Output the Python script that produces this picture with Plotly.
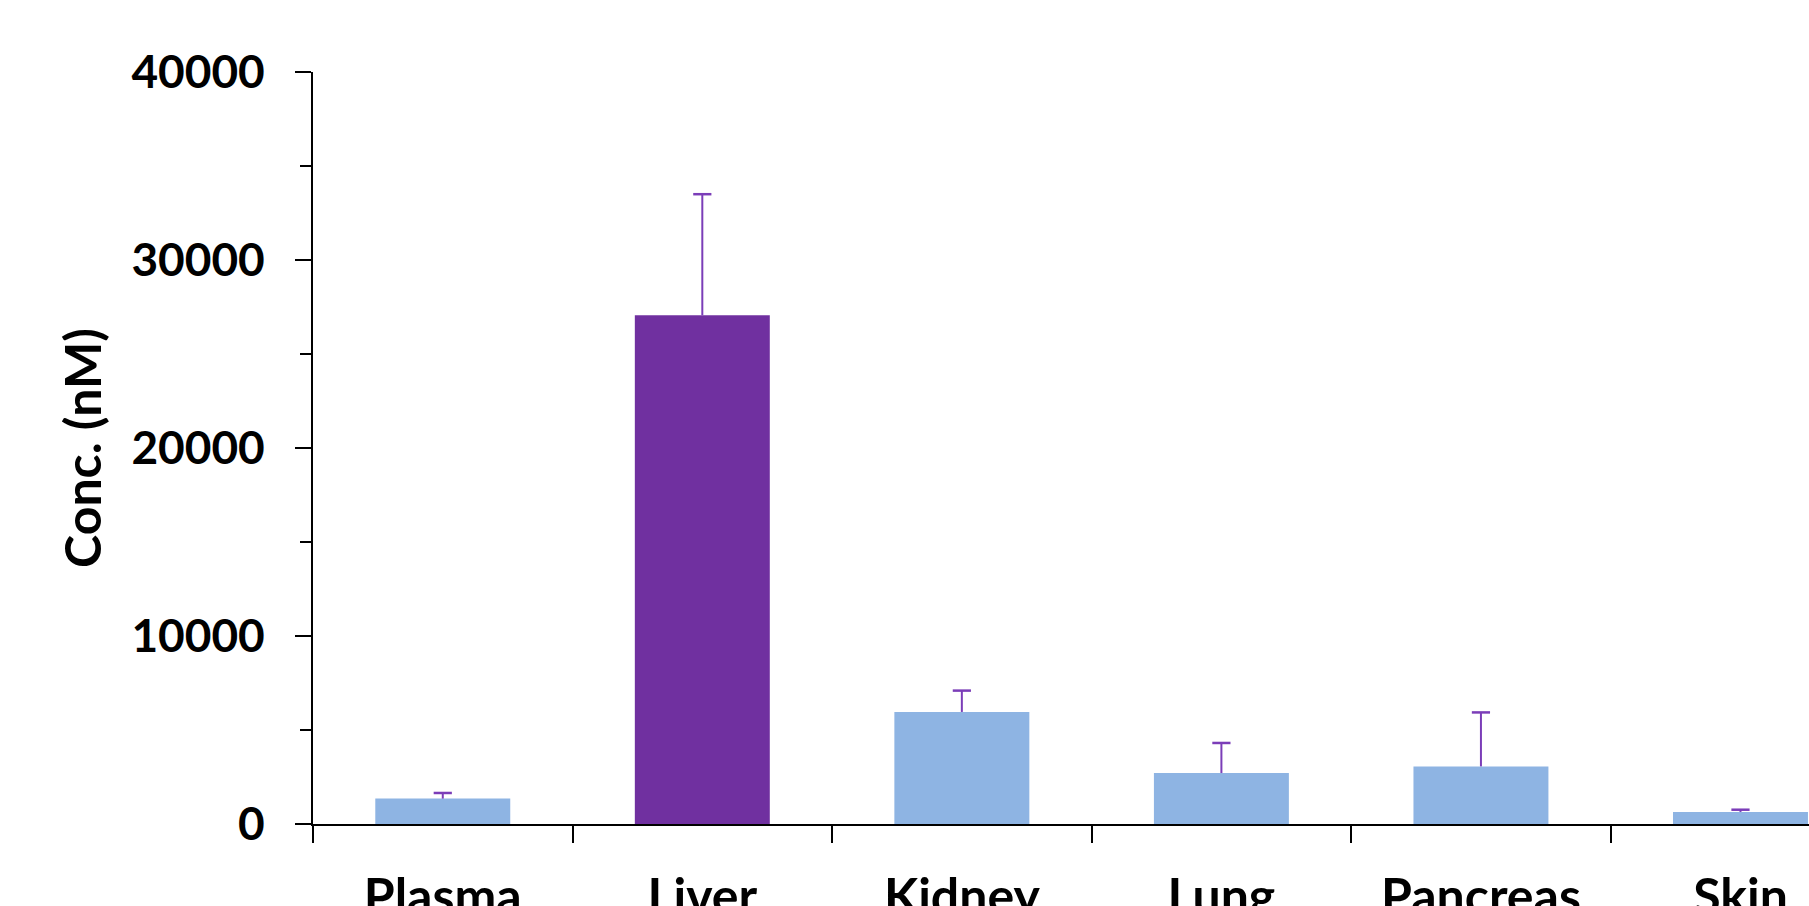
import plotly.graph_objects as go

# Tissue concentrations (nM), mean with upper error
tissues = ["Plasma", "Liver", "Kidney", "Lung", "Pancreas", "Skin"]
conc_nm = [1350, 27060, 5960, 2710, 3065, 640]
conc_err = [300, 6440, 1135, 1600, 2870, 120]
bar_colors = ["#8EB4E3", "#7030A0", "#8EB4E3", "#8EB4E3", "#8EB4E3", "#8EB4E3"]
y_ticks = [0, 10000, 20000, 30000, 40000]

font_family = "Lato"
err_color = "#7B3DB8"

fig = go.Figure(
    go.Bar(
        x=tissues,
        y=conc_nm,
        width=0.52,
        marker=dict(color=bar_colors, line=dict(width=0)),
    )
)

# Upper-only error bars: a stem from the bar top to mean + error, capped at the top
stem_x, stem_y = [], []
for t, v, e in zip(tissues, conc_nm, conc_err):
    stem_x += [t, t, None]
    stem_y += [v, v + e, None]
fig.add_trace(
    go.Scatter(
        x=stem_x,
        y=stem_y,
        mode="lines",
        line=dict(color=err_color, width=2),
        hoverinfo="skip",
    )
)
fig.add_trace(
    go.Scatter(
        x=tissues,
        y=[v + e for v, e in zip(conc_nm, conc_err)],
        mode="markers",
        marker=dict(
            symbol="line-ew-open",
            size=13,
            color=err_color,
            line=dict(color=err_color, width=2.5),
        ),
        hoverinfo="skip",
    )
)

fig.update_layout(
    width=1809,
    height=906,
    margin=dict(l=313, r=0, t=72, b=82, pad=0),
    paper_bgcolor="white",
    plot_bgcolor="white",
    showlegend=False,
    font=dict(family=font_family, color="black"),
)

fig.update_xaxes(
    type="category",
    range=[-0.5, 5.264],
    showline=True,
    linecolor="black",
    linewidth=2,
    ticks="outside",
    tickson="boundaries",
    ticklen=17,
    tickwidth=2,
    tickcolor="black",
    tickfont=dict(family=font_family, size=50, weight="bold", color="black"),
    ticklabelstandoff=28,
    showgrid=False,
    zeroline=False,
    automargin=False,
)

fig.update_yaxes(
    range=[0, 40000],
    tickvals=y_ticks,
    ticktext=[str(v) for v in y_ticks],
    showline=True,
    linecolor="black",
    linewidth=2,
    ticks="outside",
    ticklen=16,
    tickwidth=2,
    tickcolor="black",
    minor=dict(dtick=5000, ticks="outside", ticklen=11, tickwidth=2, tickcolor="black", showgrid=False),
    tickfont=dict(family=font_family, size=46, weight="bold", color="black"),
    ticklabelstandoff=21,
    showgrid=False,
    zeroline=False,
    automargin=False,
    title=dict(
        text="Conc. (nM)",
        font=dict(family=font_family, size=50, weight="bold", color="black"),
        standoff=14,
    ),
)

fig.write_html("out.html")
